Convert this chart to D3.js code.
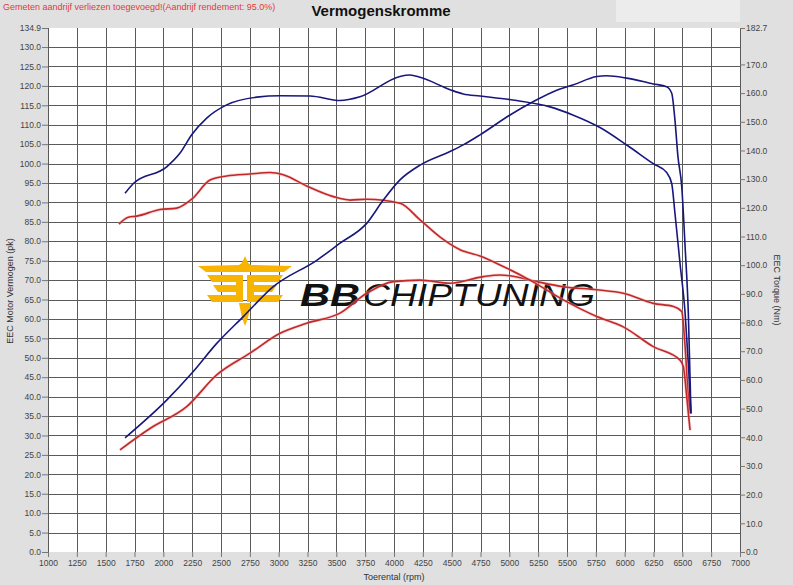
<!DOCTYPE html>
<meta charset="utf-8">
<style>
body { margin: 0; background: #e0e0e0; }
svg { display: block; }
text { font-family: "Liberation Sans", Arial, sans-serif; }
.tick text { font-size: 8.5px; fill: #444; }
.grid line { stroke: #5a5a5a; stroke-width: 1; shape-rendering: crispEdges; }
</style>
<svg width="793" height="585"></svg>
<script src="https://d3js.org/d3.v7.min.js"></script>
<script>

// tuned (blue) power, pk
var rpmTunedPower = [1668, 2029, 2246, 2463, 2693, 2953, 3330, 3532, 3763, 3907, 4052, 4226, 4486, 4600, 4746, 5006, 5205, 5411, 5550, 5758, 5844, 6018, 6248, 6364, 6408, 6436, 6462, 6495, 6524, 6552, 6575];
var tunedPower    = [29.4, 39.1, 46.0, 53.7, 60.6, 68.3, 75.1, 79.5, 84.6, 90.6, 95.8, 99.6, 103.1, 104.8, 107.4, 112.5, 115.9, 118.9, 120.2, 122.4, 122.6, 122.0, 120.5, 119.8, 118.1, 111.2, 101.8, 94.0, 78.6, 61.5, 35.7];

// tuned (blue) torque, Nm
var rpmTunedTorque = [1668, 1740, 2029, 2145, 2246, 2376, 2549, 2810, 3012, 3272, 3532, 3705, 4052, 4139, 4226, 4486, 4600, 4746, 5064, 5353, 5550, 5786, 6018, 6248, 6364, 6408, 6436, 6480, 6524, 6552, 6575];
var tunedTorque    = [125.1, 128.5, 134.3, 139.1, 145.5, 151.3, 155.9, 158.6, 159.1, 159.0, 157.4, 158.7, 165.8, 166.3, 165.5, 161.2, 159.7, 159.0, 157.4, 155.2, 152.4, 148.0, 141.9, 135.4, 132.3, 128.5, 118.1, 100.6, 83.3, 65.8, 48.3];

// stock (red) power, pk
var rpmStockPower = [1624, 1884, 2202, 2463, 2752, 3012, 3243, 3532, 3763, 3994, 4226, 4486, 4775, 4919, 5006, 5238, 5468, 5758, 5988, 6248, 6422, 6495, 6524, 6552, 6570];
var stockPower    = [26.3, 31.8, 37.4, 45.6, 51.2, 56.3, 58.9, 61.5, 66.6, 69.6, 70.0, 69.2, 70.9, 71.3, 71.1, 69.6, 68.3, 67.5, 66.6, 64.0, 63.2, 61.9, 52.9, 40.0, 35.7];

// stock (red) torque, Nm
var rpmStockTorque = [1615, 1696, 1769, 1971, 2116, 2246, 2405, 2549, 2752, 2925, 3040, 3243, 3474, 3619, 3763, 4052, 4226, 4400, 4573, 4746, 4919, 5179, 5468, 5758, 5988, 6248, 6480, 6509, 6538, 6567];
var stockTorque    = [114.3, 116.7, 117.1, 119.4, 119.9, 123.0, 129.7, 131.1, 131.8, 132.3, 131.5, 127.6, 123.9, 122.7, 123.0, 121.6, 115.8, 109.8, 105.4, 103.2, 100.1, 94.8, 87.9, 82.1, 78.5, 71.6, 66.9, 64.6, 54.2, 42.5];

var rpmTicks = d3.range(1000, 7001, 250);
var powerTicks = d3.range(0, 131, 5).concat([134.9]);
var torqueTicks = d3.range(0, 171, 10).concat([182.7]);

var svg = d3.select("svg");
var pLeft = 48, pRight = 740, pTop = 28, pBottom = 552;

var x = d3.scaleLinear().domain([1000, 7000]).range([pLeft, pRight]);
var yP = d3.scaleLinear().domain([0, 134.9]).range([pBottom, pTop]);
var yT = d3.scaleLinear().domain([0, 182.7]).range([pBottom, pTop]);

// header
svg.append("rect").attr("x", 616).attr("y", 0).attr("width", 124).attr("height", 22).attr("fill", "#ececec");
svg.append("text").attr("x", 3).attr("y", 10).attr("font-size", 9).attr("fill", "#e03a3a")
    .text("Gemeten aandrijf verliezen toegevoegd!(Aandrijf rendement: 95.0%)");
svg.append("text").attr("x", 381).attr("y", 16).attr("text-anchor", "middle")
    .attr("font-size", 15).attr("font-weight", "bold").attr("fill", "#111")
    .text("Vermogenskromme");

// plot area
svg.append("rect").attr("x", pLeft).attr("y", pTop).attr("width", pRight - pLeft).attr("height", pBottom - pTop).attr("fill", "#fff");

var grid = svg.append("g").attr("class", "grid");
grid.selectAll(".v").data(rpmTicks).enter().append("line")
    .attr("x1", function(d) { return Math.round(x(d)) + 0.5; })
    .attr("x2", function(d) { return Math.round(x(d)) + 0.5; })
    .attr("y1", pTop).attr("y2", pBottom);
grid.selectAll(".h").data(d3.range(5, 131, 5)).enter().append("line")
    .attr("y1", function(d) { return Math.round(yP(d)) + 0.5; })
    .attr("y2", function(d) { return Math.round(yP(d)) + 0.5; })
    .attr("x1", pLeft).attr("x2", pRight);

// axes
var fmt = d3.format(".1f");
var axL = svg.append("g").attr("transform", "translate(" + pLeft + ",0)")
    .call(d3.axisLeft(yP).tickValues(powerTicks).tickFormat(fmt).tickSize(6).tickPadding(1));
var axR = svg.append("g").attr("transform", "translate(" + pRight + ",0)")
    .call(d3.axisRight(yT).tickValues(torqueTicks).tickFormat(fmt).tickSize(5).tickPadding(1));
var axB = svg.append("g").attr("transform", "translate(0," + pBottom + ")")
    .call(d3.axisBottom(x).tickValues(rpmTicks).tickFormat(d3.format("d")).tickSize(5).tickPadding(3));
[axL, axR, axB].forEach(function(a) {
  a.select(".domain").remove();
  a.selectAll(".tick line").attr("stroke", "#777");
});
axB.selectAll(".tick text").attr("font-size", 9);

svg.append("text").attr("transform", "translate(13,291) rotate(-90)").attr("text-anchor", "middle")
    .attr("font-size", 9).attr("fill", "#333").text("EEC Motor Vermogen (pk)");
svg.append("text").attr("transform", "translate(774,290) rotate(90)").attr("text-anchor", "middle")
    .attr("font-size", 9).attr("fill", "#333").text("EEC Torque (Nm)");
svg.append("text").attr("x", 394).attr("y", 580).attr("text-anchor", "middle")
    .attr("font-size", 9).attr("fill", "#333").text("Toerental (rpm)");

// logo
var logo = svg.append("g").attr("fill", "#f7b400");
logo.append("path").attr("d", "M245,256 L249,265 L241,265 Z");
logo.append("path").attr("d", "M198,266 L239,265 L245,261 L251,265 L292,266 L284,272 L206,272 Z");
[0, 1, 2].forEach(function(i) {
  var yy = 275 + i * 10;
  var w = i === 1 ? 30 : 36;
  logo.append("path").attr("d", "M" + (243 - w) + "," + yy + " L243," + yy + " L243," + (yy + 7) + " L" + (248 - w) + "," + (yy + 7) + " Z");
  logo.append("path").attr("d", "M" + (247 + w) + "," + yy + " L247," + yy + " L247," + (yy + 7) + " L" + (242 + w) + "," + (yy + 7) + " Z");
});
logo.append("rect").attr("x", 236).attr("y", 275).attr("width", 7).attr("height", 27);
logo.append("rect").attr("x", 247).attr("y", 275).attr("width", 7).attr("height", 27);
logo.append("path").attr("d", "M239,303 L251,303 L248,318 L245,326 L242,318 Z");

svg.append("text").attr("x", 300).attr("y", 306).attr("font-size", 32).attr("font-weight", 900)
    .attr("font-style", "italic").attr("fill", "#111").attr("textLength", 60).attr("lengthAdjust", "spacingAndGlyphs")
    .text("BB");
svg.append("text").attr("x", 363).attr("y", 306).attr("font-size", 32).attr("font-weight", 300)
    .attr("font-style", "italic").attr("fill", "#111").attr("textLength", 232).attr("lengthAdjust", "spacingAndGlyphs")
    .text("CHIPTUNING");

// curves
function curve(rpms, vals, yScale) {
  return d3.line().curve(d3.curveMonotoneX)
      .x(function(d, i) { return x(rpms[i]); })
      .y(function(d) { return yScale(d); })(vals);
}

var series = [
  { r: rpmStockPower, v: stockPower, y: yP, c: "#c0282a", halo: true },
  { r: rpmStockTorque, v: stockTorque, y: yT, c: "#c0282a", halo: true },
  { r: rpmTunedPower, v: tunedPower, y: yP, c: "#17177c", halo: false },
  { r: rpmTunedTorque, v: tunedTorque, y: yT, c: "#17177c", halo: false }
];
series.forEach(function(s) {
  if (s.halo) {
    svg.append("path").attr("d", curve(s.r, s.v, s.y)).attr("fill", "none")
        .attr("stroke", "#f3a3a3").attr("stroke-width", 3.2).attr("stroke-opacity", 0.45);
  }
  svg.append("path").attr("d", curve(s.r, s.v, s.y)).attr("fill", "none")
      .attr("stroke", s.c).attr("stroke-width", 1.6);
});

</script>
